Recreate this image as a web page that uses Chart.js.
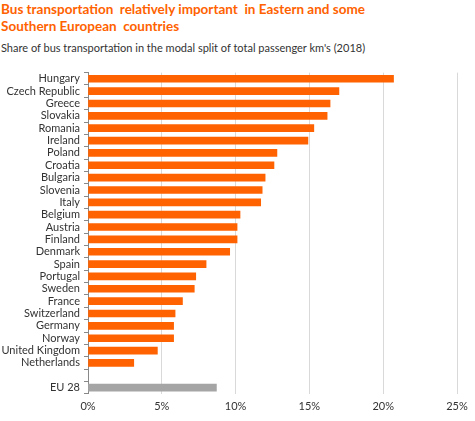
<!DOCTYPE html>
<html>
<head>
<meta charset="utf-8">
<script src="https://cdn.jsdelivr.net/npm/chart.js@4"></script>
<style>
  body { margin: 0; background: #fff; }
  #wrap { position: relative; width: 475px; height: 421px; overflow: hidden; font-family: Lato, sans-serif; }
  #title { position: absolute; left: 1px; top: 1px; color: #FF6200; font-weight: bold; font-size: 13.5px; line-height: 17px; }
  #sub { position: absolute; left: 1px; top: 41px; color: #333; font-size: 11px; }
  #box { position: absolute; left: 0; top: 62px; width: 475px; height: 359px; }
</style>
</head>
<body>
<div id="wrap">
  <div id="title">Bus transportation&nbsp; relatively important&nbsp; in Eastern and some<br>Southern European&nbsp; countries</div>
  <div id="sub">Share of bus transportation in the modal split of total passenger km's (2018)</div>
  <div id="box"><canvas id="c"></canvas></div>
</div>
<script>
// data (percent)
const countries = ['Hungary','Czech Republic','Greece','Slovakia','Romania','Ireland','Poland','Croatia',
  'Bulgaria','Slovenia','Italy','Belgium','Austria','Finland','Denmark','Spain','Portugal','Sweden',
  'France','Switzerland','Germany','Norway','United Kingdom','Netherlands','','EU 28'];
const busShare = [20.7,17.0,16.4,16.2,15.3,14.9,12.8,12.6,
  12.0,11.8,11.7,10.3,10.1,10.1,9.6,8.0,7.3,7.2,
  6.4,5.9,5.8,5.8,4.7,3.1,null,8.7];
const xTicks = [0,5,10,15,20,25];

const barColors = countries.map(c => c === 'EU 28' ? '#A5A5A5' : '#FF6200');

new Chart(document.getElementById('c'), {
  type: 'bar',
  data: {
    labels: countries,
    datasets: [{ data: busShare, backgroundColor: barColors, barThickness: 7 }]
  },
  options: {
    indexAxis: 'y',
    responsive: true, maintainAspectRatio: false,
    animation: false,
    layout: { padding: { top: 10, right: 18, bottom: 2, left: 0 } },
    plugins: { legend: { display: false }, tooltip: { enabled: false } },
    scales: {
      x: {
        min: 0, max: 25,
        afterBuildTicks: s => { s.ticks = xTicks.map(v => ({ value: v })); },
        ticks: { callback: v => v + '%', color: '#333', font: { family: 'Lato', size: 11 }, padding: 6 },
        grid: { color: '#D9D9D9', drawTicks: false },
        border: { display: false }
      },
      y: {
        afterFit: s => { s.width = 88; },
        ticks: { color: '#333', font: { family: 'Lato', size: 11 }, padding: 4, autoSkip: false },
        grid: { offset: true, drawOnChartArea: false, color: '#888', tickLength: 4 },
        border: { color: '#888' }
      }
    }
  }
});
</script>
</body>
</html>
